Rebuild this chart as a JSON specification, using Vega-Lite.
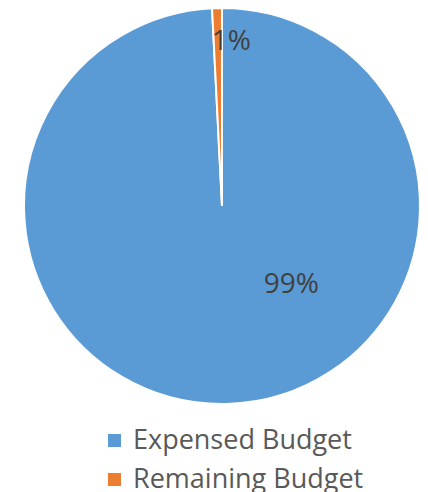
{
  "$schema": "https://vega.github.io/schema/vega-lite/v6.json",
  "width": 412,
  "height": 412,
  "autosize": "none",
  "padding": {"left": 16, "top": 0, "right": 0, "bottom": 80},
  "background": "white",
  "data": {
    "values": [
      {"category": "Expensed Budget", "share": 99.2, "label": "99%"},
      {"category": "Remaining Budget", "share": 0.8, "label": "1%"}
    ]
  },
  "encoding": {
    "theta": {"field": "share", "type": "quantitative", "stack": true},
    "color": {
      "field": "category",
      "type": "nominal",
      "scale": {
        "domain": ["Expensed Budget", "Remaining Budget"],
        "range": ["#5B9BD5", "#ED7D31"]
      },
      "legend": {
        "title": null,
        "orient": "none",
        "legendX": 85,
        "legendY": 427,
        "symbolType": "square",
        "symbolSize": 169,
        "symbolStrokeWidth": 0,
        "symbolOpacity": 1,
        "labelFont": "Open Sans",
        "labelFontSize": 27,
        "labelColor": "#595959",
        "labelLimit": 0,
        "labelOffset": 5,
        "rowPadding": 11
      }
    }
  },
  "layer": [
    {
      "mark": {"type": "arc", "radius": 198, "stroke": "white", "strokeWidth": 2}
    },
    {
      "mark": {
        "type": "text",
        "radius": 105,
        "thetaOffset": -0.745,
        "font": "Open Sans",
        "fontSize": 28,
        "align": "center",
        "baseline": "middle"
      },
      "encoding": {
        "color": {"value": "#404040"},
        "text": {
          "condition": {"test": "datum.category === 'Expensed Budget'", "field": "label"},
          "value": ""
        }
      }
    },
    {
      "mark": {
        "type": "text",
        "radius": 164,
        "thetaOffset": 0.032,
        "font": "Open Sans",
        "fontSize": 28,
        "align": "center",
        "baseline": "middle"
      },
      "encoding": {
        "color": {"value": "#404040"},
        "text": {
          "condition": {"test": "datum.category === 'Remaining Budget'", "field": "label"},
          "value": ""
        }
      }
    }
  ],
  "config": {"view": {"stroke": null}}
}
